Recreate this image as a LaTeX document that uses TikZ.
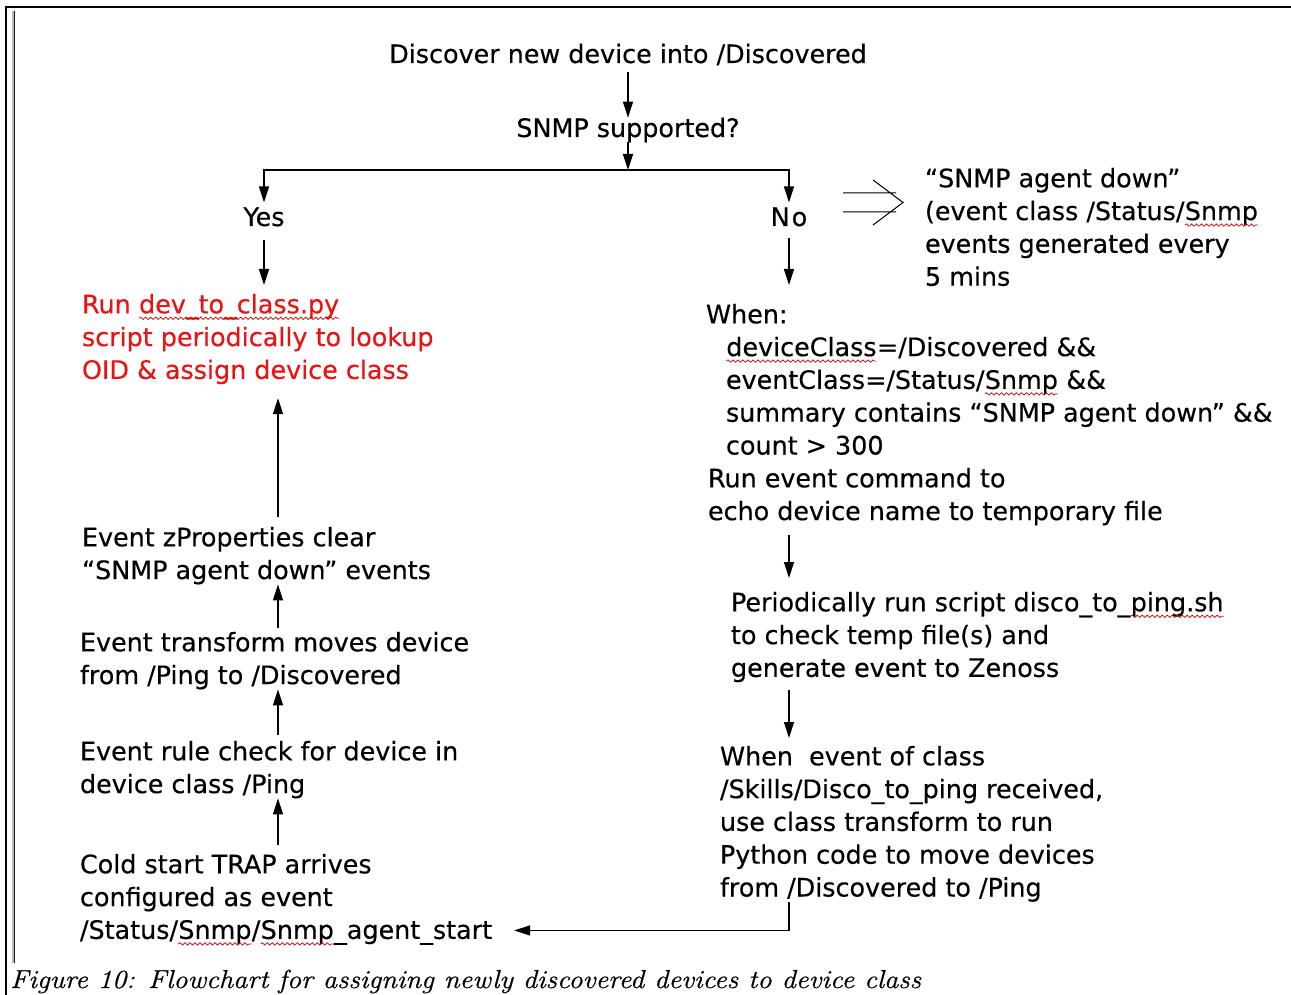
\documentclass[tikz,border=0pt]{standalone}
\usepackage{fontspec}
\newfontfamily\dv[FakeBold=0.35]{DejaVu Sans}
\newfontfamily\capf[FakeBold=0.6]{Latin Modern Roman}
\usetikzlibrary{arrows.meta,calc,decorations.pathmorphing}
\definecolor{redtxt}{RGB}{230,20,20}
\newcommand\sqw[1]{\tikz[baseline=(sq.base)]{\node[inner sep=0pt,outer sep=0pt,anchor=base](sq) at (0,0){#1};\draw[sqline]([yshift=-5pt]sq.base west) -- ([yshift=-5pt]sq.base east);}}
\begin{document}
\begin{tikzpicture}[x=1pt,y=-1pt,
 txt/.style={font=\dv\fontsize{25.4}{32.8}\selectfont, inner sep=0pt, outer sep=0pt, align=left, anchor=north west},
 lone/.style={font=\dv\fontsize{25.4}{32.8}\selectfont, inner sep=0pt, outer sep=0pt, anchor=base},
 arr/.style={line width=1.3pt, -{Triangle[length=16pt,width=10pt]}},
 sqline/.style={draw=red!80!black, line width=0.7pt, decorate, decoration={snake,amplitude=1.2pt,segment length=5pt}}]
\useasboundingbox (0,0) rectangle (1291,995);
% frame
\draw[line width=1.5pt] (6,995) -- (6,7) -- (1291,7);
\fill[gray!55] (11.5,11) rectangle (13.5,963);
\fill[gray!20!black] (13.5,11) rectangle (15,963);
% nodes
\node[lone] (disc) at (628,63) {Discover new device into /Discovered};
\node[lone] (snmp) at (628,137) {SNMP supported?};
\node[lone] (yes) at (264,226) {Yes};
\node[lone] (no) at (789,226) {N\kern2pt o};
\node[txt] (down) at (925,168) {“SNMP agent down”\\(event class /Status/\sqw{Snmp}\\events generated every\\5 mins};
\node[txt,text=redtxt] (red) at (82,294) {Run \sqw{dev\_to\_class.py}\\script periodically to lookup\\OID \& assign device class};
\node[txt] (when) at (706,304) {When:\\\hspace*{20pt}\sqw{deviceClass}=/Discovered \&\&\\\hspace*{20pt}eventClass=/Status/\sqw{Snmp} \&\&\\\hspace*{20pt}summary contains “SNMP agent down” \&\&\\\hspace*{20pt}count > 300\\\hspace*{2pt}Run event command to\\\hspace*{2pt}echo device name to temporary file};
\node[txt] (period) at (731,592) {Periodically run script disco\_to\_\sqw{ping.sh}\\to check temp file(s) and\\generate event to Zenoss};
\node[txt] (whenev) at (720,746) {When\ \ event of class\\/Skills/Disco\_to\_ping received,\\use class transform to run\\Python code to move devices\\from /Discovered to /Ping};
\node[txt] (zprop) at (82,527) {Event zProperties clear\\“SNMP agent down” events};
\node[txt] (trans) at (80,632) {Event transform moves device\\from /Ping to /Discovered};
\node[txt] (rule) at (80,741) {Event rule check for device in\\device class /Ping};
\node[txt] (cold) at (80,854) {Cold start TRAP arrives\\configured as event\\/Status/\sqw{Snmp}/\sqw{Snmp}\_agent\_start};
\node[anchor=base west, inner sep=0pt, font=\capf\fontsize{26}{30}\selectfont\itshape] (cap) at (10,988) {\scalebox{1.095}[1]{Figure 10: Flowchart for assigning newly discovered devices to device class}};
% connectors
\coordinate (split) at (628,170);
\coordinate (lc) at (278,0);
\draw[arr, shorten <=7pt] (disc.south) -- (snmp.north);
\draw[arr] (snmp.south) -- (split);
\draw[arr, shorten >=5pt] (split) -| (yes.north);
\draw[arr, shorten >=5pt] (split) -| (no.north);
\draw[arr, shorten <=14pt, shorten >=9pt] (yes.south) -- (yes.south |- red.north);
\draw[arr, shorten <=12pt, shorten >=19pt] (no.south) -- (no.south |- when.north);
\draw[arr, shorten <=10pt, shorten >=14pt] (no.south |- when.south) -- (no.south |- period.north);
\draw[arr, shorten <=8pt, shorten >=8pt] (no.south |- period.south) -- (no.south |- whenev.north);
\draw[arr] (no.south |- whenev.south) |- ($(cold.south east)+(22,-15)$);
\draw[arr, shorten <=9pt] (lc |- cold.north) -- (lc |- rule.south);
\draw[arr, shorten <=6pt] (lc |- rule.north) -- (lc |- trans.south);
\draw[arr, shorten <=4pt] (lc |- trans.north) -- (lc |- zprop.south);
\draw[arr, shorten <=10pt, shorten >=14pt] (lc |- zprop.north) -- (lc |- red.south);
% implies sign
\draw[line width=1pt] (843,193) -- (896,193) (843,212) -- (896,212) (873,180) -- (903,202.5) -- (873,225);
\end{tikzpicture}
\end{document}
